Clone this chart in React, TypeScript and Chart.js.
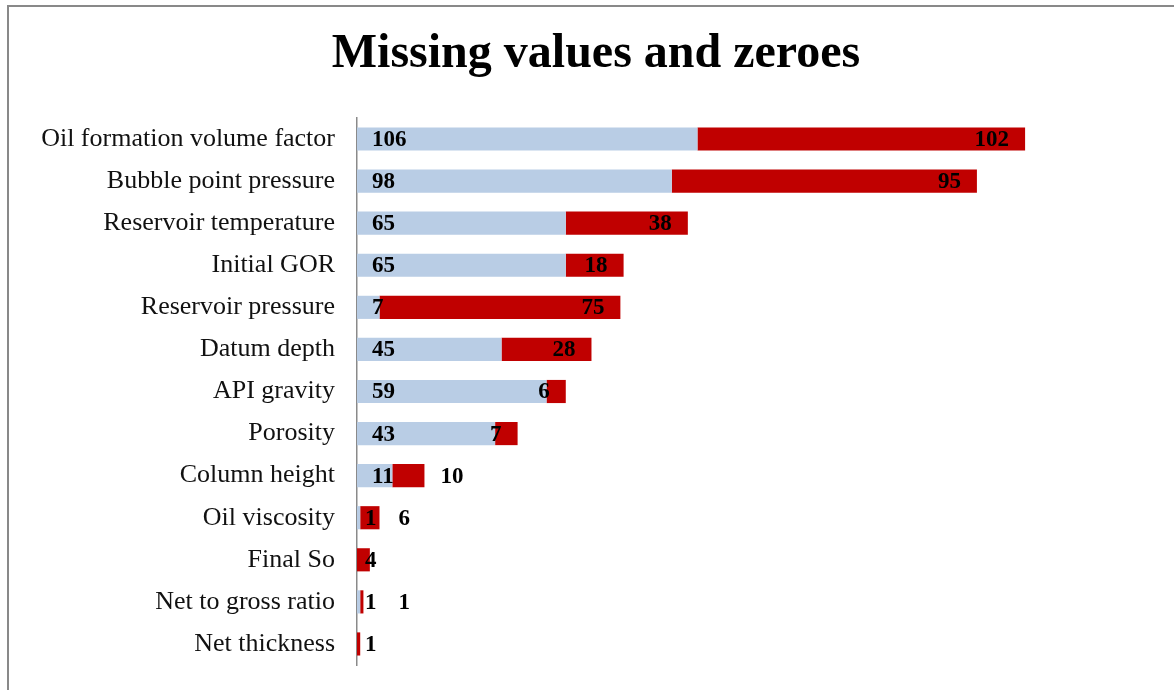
import React, { useEffect, useRef } from "react";
import { Chart, registerables } from "chart.js";

Chart.register(...registerables);

const TITLE = "Missing values and zeroes";
const categories = [
  "Oil formation volume factor",
  "Bubble point pressure",
  "Reservoir temperature",
  "Initial GOR",
  "Reservoir pressure",
  "Datum depth",
  "API gravity",
  "Porosity",
  "Column height",
  "Oil viscosity",
  "Final So",
  "Net to gross ratio",
  "Net thickness",
];
const missingValues: (number | null)[] = [106, 98, 65, 65, 7, 45, 59, 43, 11, 1, null, 1, null];
const zeroValues: (number | null)[] = [102, 95, 38, 18, 75, 28, 6, 7, 10, 6, 4, 1, 1];

const BLUE = "#B9CDE5";
const RED = "#C00000";
const SERIF = "'Liberation Serif', 'DejaVu Serif', serif";

const framePlugin = {
  id: "frame",
  beforeDraw(chart: any) {
    const ctx = chart.ctx;
    ctx.save();
    ctx.fillStyle = "#ffffff";
    ctx.fillRect(0, 0, chart.width, chart.height);
    ctx.strokeStyle = "#898989";
    ctx.lineWidth = 2;
    ctx.beginPath();
    ctx.moveTo(8, chart.height);
    ctx.lineTo(8, 6);
    ctx.lineTo(chart.width, 6);
    ctx.stroke();
    ctx.fillStyle = "#000";
    ctx.font = `bold 48px ${SERIF}`;
    ctx.textAlign = "center";
    ctx.textBaseline = "middle";
    ctx.fillText(TITLE, 596, 55);
    ctx.restore();
  },
};

const labelPlugin = {
  id: "barLabels",
  afterDatasetsDraw(chart: any) {
    const ctx = chart.ctx;
    ctx.save();
    ctx.font = `bold 23px ${SERIF}`;
    ctx.fillStyle = "#000";
    ctx.textBaseline = "middle";
    const blueMeta = chart.getDatasetMeta(0);
    const redMeta = chart.getDatasetMeta(1);
    const axisX = chart.chartArea.left;
    categories.forEach((_, i) => {
      const bv = missingValues[i];
      const rv = zeroValues[i];
      let blueRight: number | null = null;
      if (bv !== null && bv !== undefined && bv > 0) {
        const el = blueMeta.data[i];
        const w = Math.abs(el.x - el.base);
        const txt = String(bv);
        const left = w < 10 ? axisX + 8 : axisX + 15;
        ctx.textAlign = "left";
        ctx.fillText(txt, left, el.y + 1);
        blueRight = left + ctx.measureText(txt).width;
      }
      if (rv !== null && rv !== undefined && rv > 0) {
        const el = redMeta.data[i];
        const end = Math.max(el.x, el.base);
        const txt = String(rv);
        const tw = ctx.measureText(txt).width;
        const insideRight = end - 16;
        const insideLeft = insideRight - tw;
        if (blueRight !== null && insideLeft < blueRight + 6) {
          ctx.textAlign = "left";
          ctx.fillText(txt, Math.max(end + 16, blueRight + 22), el.y + 1);
        } else if (insideLeft < axisX + 8) {
          ctx.textAlign = "left";
          ctx.fillText(txt, axisX + 8, el.y + 1);
        } else {
          ctx.textAlign = "right";
          ctx.fillText(txt, insideRight, el.y + 1);
        }
      }
    });
    ctx.restore();
  },
};

export default function App() {
  const ref = useRef<HTMLCanvasElement | null>(null);
  useEffect(() => {
    document.body.style.margin = "0";
    if (!ref.current) return;
    const chart = new Chart(ref.current, {
      type: "bar",
      data: {
        labels: categories,
        datasets: [
          {
            label: "Missing",
            data: missingValues,
            backgroundColor: BLUE,
            barPercentage: 0.55,
            categoryPercentage: 1,
          },
          {
            label: "Zeroes",
            data: zeroValues,
            backgroundColor: RED,
            barPercentage: 0.55,
            categoryPercentage: 1,
          },
        ],
      },
      options: {
        indexAxis: "y",
        animation: false,
        responsive: false,
        maintainAspectRatio: false,
        layout: { padding: { top: 118, bottom: 25, right: 14, left: 0 } },
        plugins: {
          legend: { display: false },
          tooltip: { enabled: false },
          title: { display: false },
        },
        scales: {
          x: { stacked: true, min: 0, max: 250, display: false },
          y: {
            stacked: true,
            grid: { display: false, drawTicks: false },
            border: { display: true, color: "#8a8a8a", width: 1.5 },
            ticks: {
              color: "#111",
              padding: 22,
              font: { family: SERIF, size: 26 },
            },
            afterFit: (scale: any) => {
              scale.width = 357;
              scale.paddingTop = 0;
              scale.paddingBottom = 0;
            },
          },
        },
      },
      plugins: [framePlugin, labelPlugin],
    });
    return () => chart.destroy();
  }, []);
  return (
    <div style={{ width: 1174, height: 690 }}>
      <canvas ref={ref} width={1174} height={690} style={{ display: "block" }} />
    </div>
  );
}
